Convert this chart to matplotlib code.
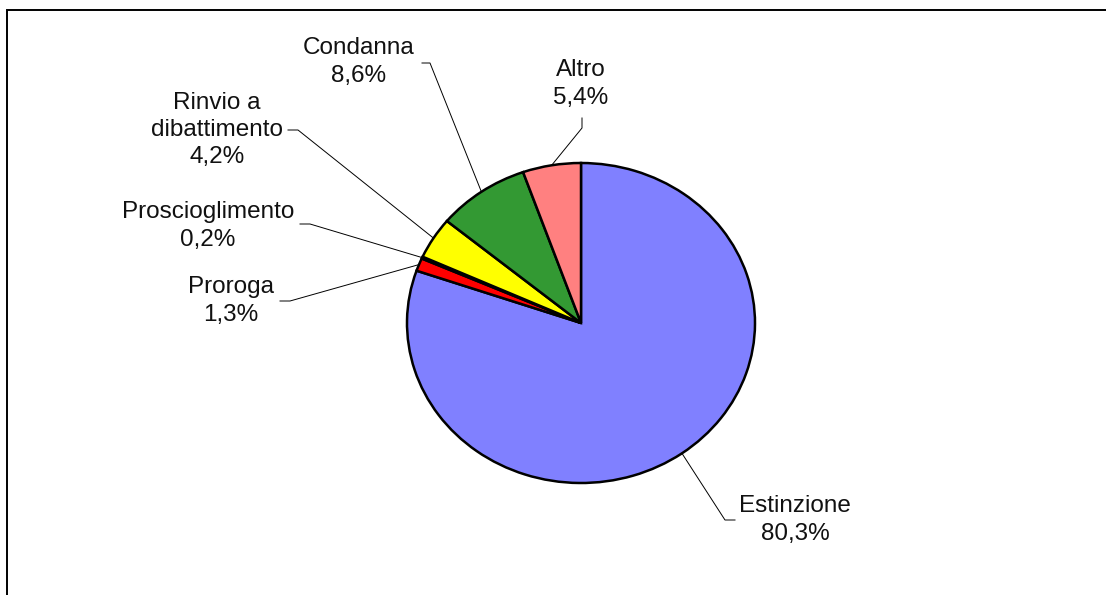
import numpy as np
import matplotlib
matplotlib.use("Agg")
import matplotlib.pyplot as plt
from matplotlib.patches import Rectangle

plt.rcParams['font.family'] = ['Liberation Sans', 'DejaVu Sans']

# ---- data ----
categories = ["Estinzione", "Proroga", "Proscioglimento", "Rinvio a\ndibattimento", "Condanna", "Altro"]
values = [80.3, 1.3, 0.2, 4.2, 8.6, 5.4]
colors = ["#8080FF", "#FF0000", "#993366", "#FFFF00", "#339933", "#FF8080"]

# ---- layout (pixels) ----
W, H = 1106, 595
CX, CY, RX, RY = 581, 323, 174, 160
label_pos = [(795, 520), (231, 301), (208, 226), (217, 130), (359, 62), (581, 84)]
leader_start = [(735, 520), (280, 301), (300, 224), (288, 130), (422, 63), (582, 118)]
leader_elbow = [(725, 520), (290, 301), (310, 224), (298, 130), (430, 63), (582, 128)]


def px(x, y):
    return ((x - CX) / RX, (CY - y) / RY)


fig = plt.figure(figsize=(W / 100, H / 100), dpi=100)
ax = fig.add_axes([0, 0, 1, 1])
wedges, _ = ax.pie(values, colors=colors, startangle=90, counterclock=False,
                   radius=1, center=(0, 0),
                   wedgeprops=dict(edgecolor="black", linewidth=1.8))
ax.set_aspect('auto')
ax.set_xlim(px(0, 0)[0], px(W, 0)[0])
ax.set_ylim(px(0, H)[1], px(0, 0)[1])
ax.axis('off')

for w, name, v, lp, ls, le in zip(wedges, categories, values, label_pos, leader_start, leader_elbow):
    mid = np.deg2rad((w.theta1 + w.theta2) / 2)
    ex, ey = np.cos(mid), np.sin(mid)
    sx, sy = px(*ls)
    bx, by = px(*le)
    ax.plot([sx, bx, ex], [sy, by, ey], color="black", linewidth=0.7, zorder=5)
    tx, ty = px(*lp)
    pct = f"{v:.1f}".replace(".", ",") + "%"
    ax.text(tx, ty, f"{name}\n{pct}", ha="center", va="center", multialignment="center",
            fontsize=17.5, linespacing=1.3, color="#111111")

# figure frame (cropped at right and bottom)
fig.patches.append(Rectangle((7 / W, -0.1), 1.2, (H - 10) / H + 0.1, transform=fig.transFigure,
                             fill=False, edgecolor="black", linewidth=1.4))

fig.savefig("out.png", dpi=100, facecolor="white")
